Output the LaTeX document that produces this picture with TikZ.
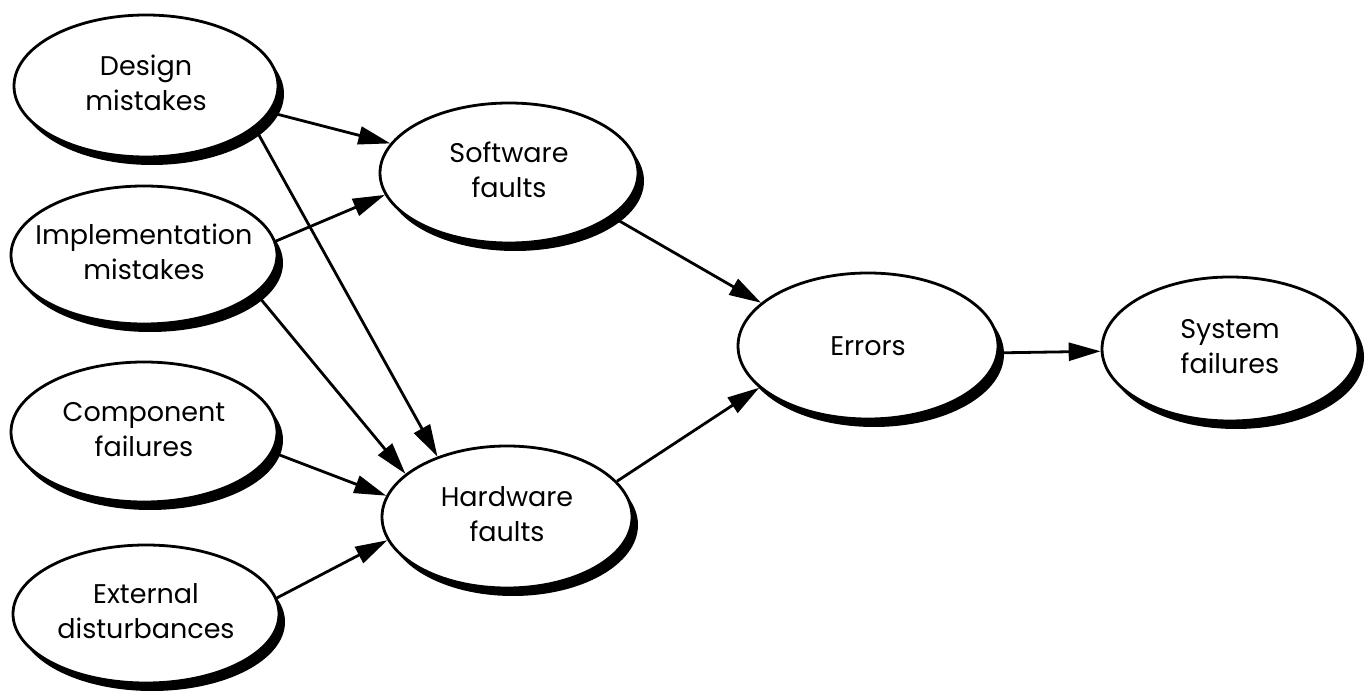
\documentclass[tikz,border=0pt]{standalone}
\usepackage{fontspec}
\setmainfont{Poppins}
\usetikzlibrary{shapes.geometric,arrows.meta,shadows}
\newcommand\twolines[2]{\makebox[0pt]{\begin{tabular}{@{}c@{}}#1\\#2\end{tabular}}}
\begin{document}
\begin{tikzpicture}[x=1pt,y=-1pt,
  bub/.style={ellipse, draw=black, line width=2.8pt, fill=white, inner sep=0pt,
    font=\fontsize{27}{35}\selectfont,
    drop shadow={shadow xshift=6pt, shadow yshift=-8pt, fill=black, opacity=1}},
  arr/.style={line width=2.8pt, -{Triangle[length=32pt, width=18pt]}}]
\useasboundingbox (0,0) rectangle (1366,700);
\node[bub, minimum width=264pt, minimum height=142pt] (D) at (146,86) {\twolines{Design}{mistakes}};
\node[bub, minimum width=266pt, minimum height=138pt] (I) at (144,255) {\twolines{Implementation}{mistakes}};
\node[bub, minimum width=266pt, minimum height=140pt] (C) at (144,432) {\twolines{Component}{failures}};
\node[bub, minimum width=266pt, minimum height=138pt] (X) at (146,614) {\twolines{External}{disturbances}};
\node[bub, minimum width=258pt, minimum height=140pt] (SW) at (509,173) {\twolines{Software}{faults}};
\node[bub, minimum width=250pt, minimum height=142pt] (HW) at (507,517) {\twolines{Hardware}{faults}};
\node[bub, minimum width=260pt, minimum height=146pt] (ER) at (868,346) {Errors};
\node[bub, minimum width=256pt, minimum height=144pt] (SF) at (1230,349) {\twolines{System}{failures}};
\draw[arr] (D.-12) -- (SW.166.6);
\draw[arr] (D.-21.2) -- (HW.139.1);
\draw[arr] (I.6) -- (SW.190.3);
\draw[arr] (I.-19.3) -- (HW.157.7);
\draw[arr] (C.-9.1) -- (HW.170.7);
\draw[arr] (X.7.4) -- (HW.191.1);
\draw[arr] (SW.-23.6) -- (ER.158.1);
\draw[arr] (HW.18.6) -- (ER.201.9);
\draw[arr] (ER.-3) -- (SF.181);
\end{tikzpicture}
\end{document}
